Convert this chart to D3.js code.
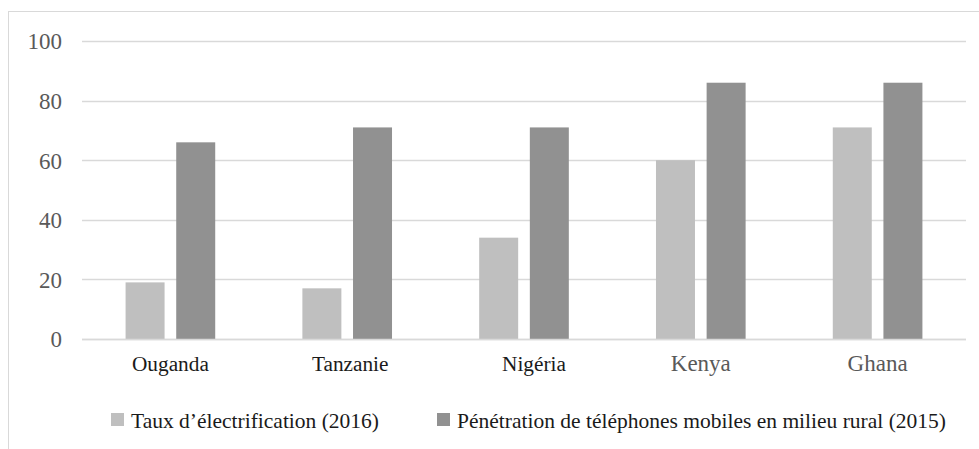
<!DOCTYPE html>
<html>
<head>
<meta charset="utf-8">
<script src="https://cdn.jsdelivr.net/npm/d3@7"></script>
<style>
  html, body { margin: 0; padding: 0; background: #fff; }
  svg { display: block; }
</style>
</head>
<body>
<svg id="chart" width="979" height="449"></svg>
<script>
const categories = ["Ouganda", "Tanzanie", "Nigéria", "Kenya", "Ghana"];
const seriesNames = ["Taux d’électrification (2016)", "Pénétration de téléphones mobiles en milieu rural (2015)"];
const electrification = [19, 17, 34, 60, 71];
const mobile = [66, 71, 71, 86, 86];
const yTicks = [0, 20, 40, 60, 80, 100];

const colors = ["#bfbfbf", "#919191"];
const labelStyle = [
  {fill: "#1a1a1a", size: 21.3, dx: 0},
  {fill: "#1a1a1a", size: 21.3, dx: 3},
  {fill: "#1a1a1a", size: 21.3, dx: 10},
  {fill: "#595959", size: 23, dx: 0},
  {fill: "#595959", size: 23, dx: 0}
];

const svg = d3.select("#chart");
const FONT = "'Liberation Serif', 'Times New Roman', Times, serif";

// outer border (chart area extends beyond the image on right/bottom)
svg.append("rect")
  .attr("x", 8.5).attr("y", 11.5)
  .attr("width", 1000).attr("height", 1000)
  .attr("fill", "none").attr("stroke", "#d9d9d9").attr("stroke-width", 1);

const plotLeft = 82, plotRight = 966, plotTop = 41, plotBottom = 339;

const y = d3.scaleLinear().domain([0, 100]).range([plotBottom, plotTop]);
const x0 = d3.scaleBand().domain(categories).range([plotLeft, plotRight]).paddingInner(0.493).paddingOuter(0.2465);
const x1 = d3.scaleBand().domain([0, 1]).range([0, x0.bandwidth()]).paddingInner(0.23).paddingOuter(0);

// gridlines
svg.append("g").selectAll("line").data(yTicks).join("line")
  .attr("x1", plotLeft).attr("x2", plotRight)
  .attr("y1", d => Math.round(y(d)) + 0.5).attr("y2", d => Math.round(y(d)) + 0.5)
  .attr("stroke", "#d9d9d9").attr("stroke-width", 1.5);

// y axis labels
const yAxis = d3.axisLeft(y).tickValues(yTicks).tickSize(0).tickPadding(0);
const yg = svg.append("g").attr("transform", `translate(62,0)`).call(yAxis);
yg.attr("font-family", FONT);
yg.select(".domain").remove();
yg.selectAll("text")
  .attr("font-family", FONT).attr("font-size", 23).attr("fill", "#595959")
  .attr("dy", "0.34em");

// bars
const data = categories.map((c, i) => ({cat: c, vals: [electrification[i], mobile[i]]}));
const groups = svg.append("g").selectAll("g").data(data).join("g")
  .attr("transform", d => `translate(${x0(d.cat)},0)`);
groups.selectAll("rect").data(d => d.vals.map((v, k) => ({k, v}))).join("rect")
  .attr("x", d => x1(d.k))
  .attr("width", x1.bandwidth())
  .attr("y", d => y(d.v))
  .attr("height", d => y(0) - y(d.v))
  .attr("fill", d => colors[d.k]);

// x axis line redrawn on top
svg.append("line")
  .attr("x1", plotLeft).attr("x2", plotRight)
  .attr("y1", Math.round(y(0)) + 0.5).attr("y2", Math.round(y(0)) + 0.5)
  .attr("stroke", "#d9d9d9").attr("stroke-width", 1.5);

// category labels
const xAxis = d3.axisBottom(x0).tickSize(0).tickPadding(0);
const xg = svg.append("g").call(xAxis);
xg.attr("font-family", FONT);
xg.select(".domain").remove();
xg.selectAll("text")
  .attr("font-family", FONT)
  .attr("y", 371).attr("dy", 0)
  .attr("font-size", (d, i) => labelStyle[i].size)
  .attr("fill", (d, i) => labelStyle[i].fill)
  .attr("dx", (d, i) => labelStyle[i].dx);

// legend
const legendPos = [111, 437];
const lg = svg.append("g").selectAll("g").data(seriesNames).join("g")
  .attr("transform", (d, i) => `translate(${legendPos[i]},413)`);
lg.append("rect").attr("width", 13).attr("height", 13).attr("fill", (d, i) => colors[i]);
lg.append("text").attr("x", 20).attr("y", 15)
  .attr("font-family", FONT).attr("font-size", 21.5).attr("fill", "#1a1a1a")
  .text(d => d);
</script>
</body>
</html>
